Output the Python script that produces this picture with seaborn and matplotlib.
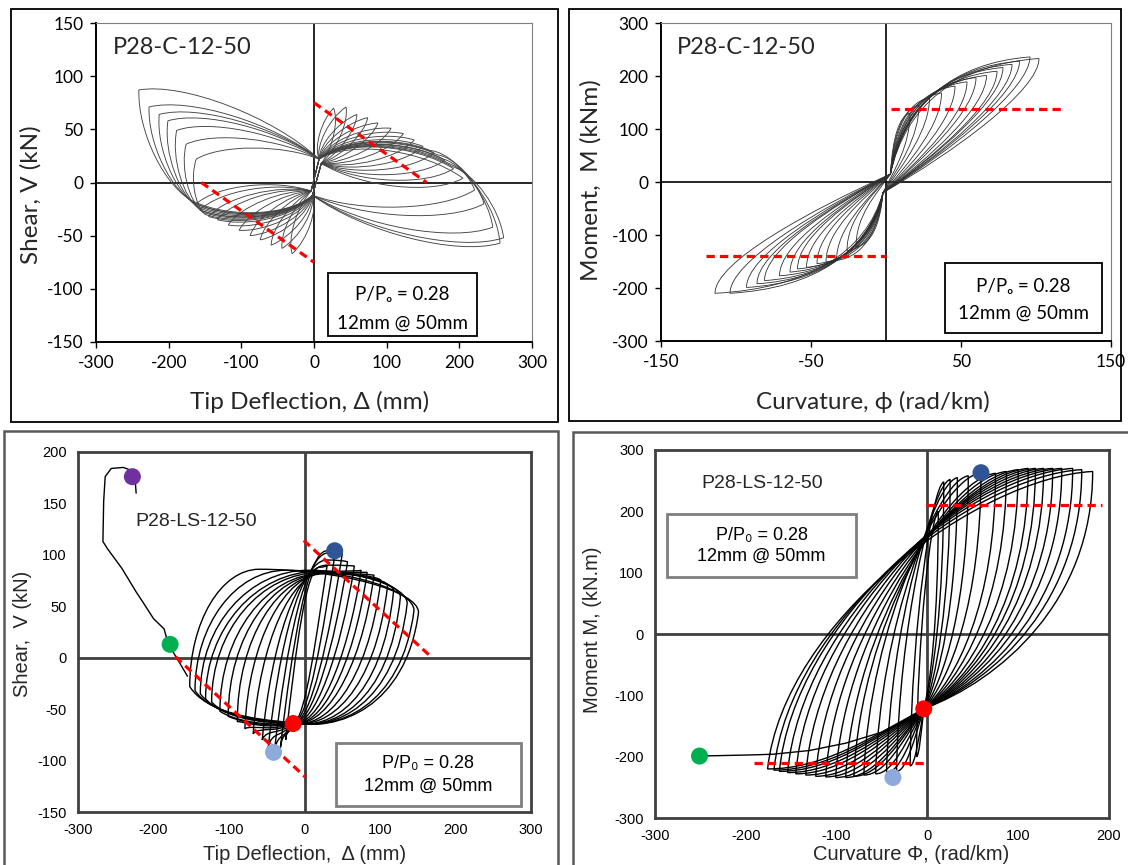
"""
Hysteresis response of column P28: shear / moment loops for the
C and LS specimens, redrawn in a 2x2 layout.
"""

import matplotlib
matplotlib.use('Agg')
import matplotlib.pyplot as plt
import seaborn as sns
from matplotlib.path import Path
from matplotlib.patches import PathPatch, Rectangle

sns.set_theme(style='white')
plt.rcParams['font.family'] = ['Lato', 'DejaVu Sans']
plt.rcParams['axes.unicode_minus'] = False

W, H = 1128, 865

# ==================== data ====================
# --- P28-C-12-50, shear vs tip deflection: peak and end point of each half cycle
c_v_pos_pk_d = [27, 44, 59, 74, 88, 106, 123, 138, 150, 165, 180, 192, 205, 160, 170, 178, 185, 190]
c_v_pos_pk_v = [70, 71, 64, 61, 56, 51, 46, 40, 34, 28, 21, 13, 4, 30, 26, 22, 18, 15]
c_v_pos_end_d = [27, 44, 59, 74, 88, 106, 123, 138, 150, 165, 180, 192, 205, 221, 234, 246, 256, 261]
c_v_pos_end_v = [70, 71, 64, 61, 56, 51, 46, 40, 34, 28, 21, 13, 4, -7, -20, -42, -57, -52]
c_v_neg_pk_d = [-30, -44, -59, -74, -88, -103, -118, -133, -145, -157, -162, -150, -153, -156, -158, -160, -162, -165]
c_v_neg_pk_v = [-67, -62, -59, -54, -50, -45, -40, -35, -32, -26, -20, -30, -28, -26, -24, -22, -20, -18]
c_v_neg_end_d = [-30, -44, -59, -74, -88, -103, -118, -133, -145, -157, -162, -162, -176, -189, -201, -213, -227, -241]
c_v_neg_end_v = [-67, -62, -59, -54, -50, -45, -40, -35, -32, -26, -20, 22, 36, 49, 58, 64, 71, 87]
c_v_pinch_up = (7, 22)
c_v_pinch_low = (-2, -12)
c_v_leaf_root_up = (10, 18)
c_v_leaf_root_low = (-4, -8)

# --- P28-C-12-50, moment vs curvature: tip of each half cycle
c_m_pos_phi = [16, 22, 29, 37, 46, 54, 60, 67, 74, 78, 84, 89, 96, 102]
c_m_pos_m = [130, 145, 159, 168, 181, 189, 197, 201, 209, 216, 222, 228, 236, 233]
c_m_neg_phi = [-20, -26, -33, -40, -46, -53, -59, -64, -71, -81, -86, -93, -104, -114]
c_m_neg_m = [-123, -130, -148, -151, -154, -161, -164, -170, -177, -186, -192, -199, -210, -210]
c_m_pinch_up = (3, 15)
c_m_pinch_low = (-2, -20)

# --- P28-LS-12-50, shear vs tip deflection
ls_v_max_d = [30, 41, 50, 57, 66, 75, 83, 92, 101, 110, 118, 127, 136, 145, 151]
ls_v_max_v = [90, 104, 101, 93, 89, 85, 83, 80, 75, 70, 65, 59, 53, 46, 44]
ls_v_min_d = [-25, -32, -40, -48, -56, -68, -79, -89, -101, -112, -123, -131, -138, -145, -152]
ls_v_min_v = [-80, -88, -92, -87, -80, -74, -69, -62, -57, -52, -43, -40, -35, -32, -28]
ls_v_apex_d = [20, 30, 32, 30, 30, 30, 30, 30, 28, 25, 22, 18, 5, -25, -60]
ls_v_top = [88, 104, 102, 95, 90, 84, 83, 82, 82, 82, 83, 84, 85, 85, 86]
ls_v_bot = [-64, -65, -66, -67, -68, -69, -70, -70, -71, -71, -72, -72, -72, -72, -72]
ls_v_pinch = (-15, -63)
ls_v_mono_d = [-223, -224, -229, -240, -256, -264, -266, -267, -261, -242, -223, -214, -200, -186, -181, -172, -163, -155]
ls_v_mono_v = [160, 170, 182, 185, 184, 176, 152, 113, 106, 87, 64, 54, 38, 28, 15, 3, -8, -18]

# --- P28-LS-12-50, moment vs curvature
ls_m_max_phi = [12, 18, 25, 33, 45, 59, 75, 87, 100, 111, 119, 128, 138, 148, 160, 170, 182]
ls_m_max_m = [200, 248, 252, 255, 258, 263, 262, 265, 268, 270, 270, 270, 270, 270, 270, 268, 265]
ls_m_min_phi = [-12, -19, -34, -45, -57, -70, -81, -90, -101, -112, -123, -134, -145, -154, -163, -169, -176]
ls_m_min_m = [-200, -215, -224, -226, -228, -230, -232, -234, -234, -233, -232, -230, -228, -226, -224, -222, -220]
ls_m_pinch = (-4, -122)
ls_m_mono_phi = [-251, -220, -190, -170, -130, -90, -50, -20, -4]
ls_m_mono_m = [-199, -198, -197, -196, -190, -178, -160, -138, -122]

# marker points (LS specimen)
ls_v_dots_d = [-228, -178, 40, -41, -15]
ls_v_dots_v = [176, 13, 104, -92, -64]
ls_v_dots_c = ['#7030A0', '#00B050', '#2F5597', '#8EA9DB', '#FF0000']
ls_m_dots_phi = [-251, 59, -38, -4]
ls_m_dots_m = [-199, 263, -234, -122]
ls_m_dots_c = ['#00B050', '#2F5597', '#8EA9DB', '#FF0000']

# red dashed reference lines: (x0, x1), (y0, y1)
c_v_ref = [((0, 155), (75, 0)), ((-155, 0), (0, -75))]
c_m_ref = [((3, 118), (137, 137)), ((-120, 0), (-139, -139))]
ls_v_ref = [((-1, 169), (114, 0)), ((-171, 1), (1, -116))]
ls_m_ref = [((-2, 192), (210, 210)), ((-191, 0), (-210, -210))]


# ==================== helpers ====================
def add_axes(fig, L, R, T, B):
    return fig.add_axes([L / W, 1 - B / H, (R - L) / W, (B - T) / H])


def fx(x):
    return x / W


def fy(y):
    return 1 - y / H


def lens(a, b, w, asp):
    # cubic from a to b bowed to the left of the travel direction
    dx, dy = b[0] - a[0], b[1] - a[1]
    nx, ny = -dy * asp * w, dx / asp * w
    return [(a[0] + 0.2 * dx + nx, a[1] + 0.2 * dy + ny),
            (a[0] + 0.7 * dx + nx, a[1] + 0.7 * dy + ny), b]


def draw_lens_loops(ax, up, low, root_up, root_low, pos_pk, pos_end, neg_pk, neg_end, asp, color, lw):
    for pp, pe, npk, ne in zip(pos_pk, pos_end, neg_pk, neg_end):
        verts, codes = [up], [Path.MOVETO]
        for s, root, p, e, r in [(up, root_up, pp, pe, low), (low, root_low, npk, ne, up)]:
            verts += lens(s, p, 0.16, asp)
            codes += [Path.CURVE4] * 3
            if p != e:
                verts += lens(p, e, 0.16, asp) + lens(e, r, 0.12, asp)
                codes += [Path.CURVE4] * 6
            else:
                verts += lens(p, root, 0.14, asp) + [r]
                codes += [Path.CURVE4] * 3 + [Path.LINETO]
        ax.add_patch(PathPatch(Path(verts, codes), fill=False, ec=color, lw=lw, zorder=3))


def leaf_half(s, p, r, drop, sign):
    sx, sy = s
    px, py = p
    rx, ry = r
    dx, dy = px - sx, py - sy
    return [(sx + 0.1 * dx, sy + 0.6 * dy), (sx + 0.45 * dx, py - 0.05 * dy), (px, py),
            (px, py - sign * drop), (rx + 0.45 * (px - rx), ry + 0.3 * (py - ry)), (rx, ry)]


def draw_leaf_loops(ax, up, low, pos_tips, neg_tips, drop, color, lw):
    for pp, npk in zip(pos_tips, neg_tips):
        verts = [up] + leaf_half(up, pp, low, drop, 1) + leaf_half(low, npk, up, drop, -1)
        codes = [Path.MOVETO] + [Path.CURVE4] * (len(verts) - 1)
        ax.add_patch(PathPatch(Path(verts, codes), fill=False, ec=color, lw=lw, zorder=3))


def draw_round_loops(ax, pinch, lo_pts, hi_pts, apex, tops, bots, color, lw):
    rx, ry = pinch
    for i, ((xn, yn), (xp, yp)) in enumerate(zip(lo_pts, hi_pts)):
        wd = xp - xn
        verts = [(rx, ry)]
        if apex is not None:
            xa, top, bot = apex[i], tops[i], bots[i]
            f = max(0.0, 0.45 - wd / 400)
            k = min(0.8, 0.3 + wd / 500)
            verts += [(rx + 0.4 * (xn - rx), ry + 0.3 * (yn - ry) - 8),
                      (xn + 0.15 * (rx - xn), yn + 0.7 * (ry - yn)), (xn, yn)]
            verts += [(xn + f * (xa - xn), yn + 0.55 * (top - yn)),
                      (xn + (0.45 + 0.5 * f) * (xa - xn), top), (xa, top)]
            verts += [(xa + 0.5 * (xp - xa), top), (xp, yp + 0.5 * (top - yp)), (xp, yp)]
            verts += [(xp - 0.5 * (1 - k) * (xp - rx), yp - k * (yp - bot)),
                      (rx + 0.35 * (xp - rx), bot), (rx, ry)]
        else:
            hgt = yp - yn
            verts += [(rx + 0.35 * (xn - rx), ry + 0.5 * (yn - ry)),
                      (xn + 0.35 * (rx - xn), yn), (xn, yn)]
            verts += [(xn + 0.05 * wd, yn + 0.5 * hgt), (xp - 0.35 * wd, yp - 0.02 * hgt), (xp, yp)]
            verts += [(xp, yp - 0.55 * (yp - ry)), (rx + 0.45 * (xp - rx), ry + 0.12 * (yp - ry)), (rx, ry)]
        codes = [Path.MOVETO] + [Path.CURVE4] * (len(verts) - 1)
        ax.add_patch(PathPatch(Path(verts, codes), fill=False, ec=color, lw=lw, zorder=3))


def draw_refs(ax, refs):
    for xs, ys in refs:
        ax.plot(xs, ys, color='red', lw=2.3, dashes=(2.6, 1.6), zorder=5)


def style_excel(ax, xlim, ylim, xticks, yticks):
    ax.set_xlim(xlim)
    ax.set_ylim(ylim)
    ax.set_xticks(xticks)
    ax.set_yticks(yticks)
    ax.tick_params(bottom=True, left=True, direction='out', length=4, width=1,
                   labelsize=12.5, pad=5, colors='black')
    for s in ['left', 'bottom']:
        ax.spines[s].set_color('black')
        ax.spines[s].set_linewidth(1.4)
    for s in ['top', 'right']:
        ax.spines[s].set_color('#7f7f7f')
        ax.spines[s].set_linewidth(0.8)
    ax.axhline(0, color='black', lw=1.2, zorder=2)
    ax.axvline(0, color='black', lw=1.2, zorder=2)
    ax.set_facecolor('white')


def style_plain(ax, xlim, ylim, xticks, yticks):
    ax.set_xlim(xlim)
    ax.set_ylim(ylim)
    ax.set_xticks(xticks)
    ax.set_yticks(yticks)
    ax.tick_params(bottom=False, left=False, length=0, labelsize=10.5, pad=8, colors='black')
    for lab in ax.get_xticklabels() + ax.get_yticklabels():
        lab.set_fontfamily(['Liberation Sans', 'DejaVu Sans'])
    for s in ax.spines.values():
        s.set_color('#404040')
        s.set_linewidth(2.0)
    ax.axhline(0, color='#404040', lw=2.0, zorder=2)
    ax.axvline(0, color='#404040', lw=2.0, zorder=2)
    ax.set_facecolor('white')


def frame(fig, x0, y0, x1, y1, color, lw):
    fig.add_artist(Rectangle((fx(x0), fy(y1)), fx(x1 - x0), (y1 - y0) / H,
                             transform=fig.transFigure, fill=False, ec=color, lw=lw))


def note_box(fig, x0, y0, x1, y1, lines, family, size, ec, lw):
    frame(fig, x0, y0, x1, y1, ec, lw)
    for (txt, yc) in lines:
        fig.text(fx((x0 + x1) / 2), fy(yc), txt, ha='center', va='center',
                 fontsize=size, family=family, color='black')


# ==================== figure ====================
fig = plt.figure(figsize=(W / 100, H / 100), dpi=100)
fig.patch.set_facecolor('white')

calibri = ['Lato', 'DejaVu Sans']
arial = ['Liberation Sans', 'DejaVu Sans']

# panel frames
frame(fig, 11, 9, 558, 422, 'black', 1.3)
frame(fig, 569, 9, 1121, 421, 'black', 1.3)
frame(fig, 4, 431, 558, 870, '#595959', 1.8)
frame(fig, 573, 432, 1135, 870, '#595959', 1.8)

# ---- top left: shear, C specimen
ax1 = add_axes(fig, 96, 532, 23, 342)
style_excel(ax1, (-300, 300), (-150, 150), range(-300, 301, 100), range(-150, 151, 50))
draw_lens_loops(ax1, c_v_pinch_up, c_v_pinch_low, c_v_leaf_root_up, c_v_leaf_root_low,
                list(zip(c_v_pos_pk_d, c_v_pos_pk_v)), list(zip(c_v_pos_end_d, c_v_pos_end_v)),
                list(zip(c_v_neg_pk_d, c_v_neg_pk_v)), list(zip(c_v_neg_end_d, c_v_neg_end_v)),
                1.46, '#444444', 0.65)
draw_refs(ax1, c_v_ref)
fig.text(fx(113), fy(48), 'P28-C-12-50', fontsize=17, family=calibri, va='center', ha='left')
fig.text(fx(310), fy(402), 'Tip Deflection, \u0394 (mm)', fontsize=17.5, family=calibri, ha='center', va='center')
fig.text(fx(31), fy(195), 'Shear, V (kN)', fontsize=17.5, family=calibri, ha='center', va='center', rotation=90)
note_box(fig, 328, 273, 477, 336, [('P/P\u2092 = 0.28', 295), ('12mm @ 50mm', 323)], calibri, 13.5, 'black', 1.3)

# ---- top right: moment, C specimen
ax2 = add_axes(fig, 661, 1111, 23, 341)
style_excel(ax2, (-150, 150), (-300, 300), [-150, -50, 50, 150], range(-300, 301, 100))
draw_leaf_loops(ax2, c_m_pinch_up, c_m_pinch_low,
                list(zip(c_m_pos_phi, c_m_pos_m)), list(zip(c_m_neg_phi, c_m_neg_m)),
                60, '#2e2e2e', 0.6)
draw_refs(ax2, c_m_ref)
fig.text(fx(677), fy(48), 'P28-C-12-50', fontsize=17, family=calibri, va='center', ha='left')
fig.text(fx(873), fy(402), 'Curvature, \u03d5 (rad/km)', fontsize=17.5, family=calibri, ha='center', va='center')
fig.text(fx(591), fy(180), 'Moment,  M (kNm)', fontsize=17.5, family=calibri, ha='center', va='center', rotation=90)
note_box(fig, 945, 263, 1102, 333, [('P/P\u2092 = 0.28', 286), ('12mm @ 50mm', 313)], calibri, 13.5, 'black', 1.3)

# ---- bottom left: shear, LS specimen
ax3 = add_axes(fig, 78, 531, 452, 812)
style_plain(ax3, (-300, 300), (-150, 200), range(-300, 301, 100), range(-150, 201, 50))
draw_round_loops(ax3, ls_v_pinch, list(zip(ls_v_min_d, ls_v_min_v)), list(zip(ls_v_max_d, ls_v_max_v)),
                 ls_v_apex_d, ls_v_top, ls_v_bot, 'black', 1.0)
sns.lineplot(x=ls_v_mono_d, y=ls_v_mono_v, sort=False, estimator=None, color='black', lw=1.0, ax=ax3, zorder=3)
draw_refs(ax3, ls_v_ref)
sns.scatterplot(x=ls_v_dots_d, y=ls_v_dots_v, hue=ls_v_dots_c, palette={c: c for c in ls_v_dots_c},
                s=150, edgecolor='none', legend=False, ax=ax3, zorder=6)
fig.text(fx(135), fy(522), 'P28-LS-12-50', fontsize=14, family=arial, va='center', ha='left')
fig.text(fx(305), fy(854), 'Tip Deflection,  \u0394 (mm)', fontsize=14.5, family=arial, ha='center', va='center')
fig.text(fx(23), fy(634), 'Shear,  V (kN)', fontsize=14.5, family=arial, ha='center', va='center', rotation=90)
note_box(fig, 336, 743, 521, 806, [('P/P\u2080 = 0.28', 764), ('12mm @ 50mm', 786)], arial, 13, '#7f7f7f', 2.0)

# ---- bottom right: moment, LS specimen
ax4 = add_axes(fig, 655, 1109, 450, 818)
style_plain(ax4, (-300, 200), (-300, 300), range(-300, 201, 100), range(-300, 301, 100))
draw_round_loops(ax4, ls_m_pinch, list(zip(ls_m_min_phi, ls_m_min_m)), list(zip(ls_m_max_phi, ls_m_max_m)),
                 None, None, None, 'black', 1.0)
sns.lineplot(x=ls_m_mono_phi, y=ls_m_mono_m, sort=False, estimator=None, color='black', lw=1.0, ax=ax4, zorder=3)
draw_refs(ax4, ls_m_ref)
sns.scatterplot(x=ls_m_dots_phi, y=ls_m_dots_m, hue=ls_m_dots_c, palette={c: c for c in ls_m_dots_c},
                s=150, edgecolor='none', legend=False, ax=ax4, zorder=6)
fig.text(fx(701), fy(483), 'P28-LS-12-50', fontsize=14, family=arial, va='center', ha='left')
fig.text(fx(911), fy(854), 'Curvature \u03a6, (rad/km)', fontsize=14.5, family=arial, ha='center', va='center')
fig.text(fx(593), fy(630), 'Moment M, (kN.m)', fontsize=14.5, family=arial, ha='center', va='center', rotation=90)
note_box(fig, 667, 514, 856, 577, [('P/P\u2080 = 0.28', 535), ('12mm @ 50mm', 556)], arial, 13, '#7f7f7f', 2.0)

for ax in (ax1, ax2, ax3, ax4):
    ax.set_xlabel('')
    ax.set_ylabel('')

fig.savefig('out.png', dpi=100)
